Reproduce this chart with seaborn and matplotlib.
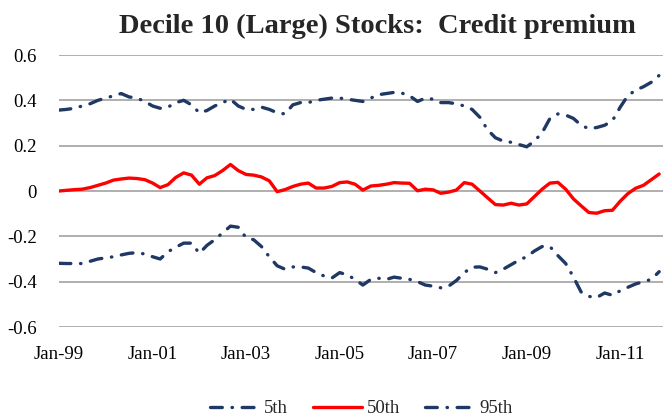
import matplotlib
matplotlib.use("Agg")
import matplotlib.pyplot as plt
import matplotlib.dates as mdates
import seaborn as sns
import pandas as pd

# bi-monthly readings, Jan-1999 .. Nov-2011
dates = pd.date_range("1999-01-01", "2011-11-01", freq="2MS")

p05 = [-0.319, -0.32, -0.32, -0.32, -0.31, -0.30, -0.295, -0.29, -0.282, -0.275,
       -0.272, -0.278, -0.29, -0.30, -0.268, -0.248, -0.23, -0.23, -0.275, -0.24,
       -0.215, -0.185, -0.155, -0.16, -0.206, -0.215, -0.245, -0.29, -0.33, -0.345,
       -0.335, -0.335, -0.34, -0.36, -0.375, -0.384, -0.36, -0.37, -0.39, -0.415,
       -0.39, -0.385, -0.39, -0.38, -0.385, -0.39, -0.40, -0.415, -0.42, -0.427,
       -0.42, -0.395, -0.36, -0.336, -0.335, -0.345, -0.36, -0.345, -0.325, -0.305,
       -0.29, -0.265, -0.245, -0.245, -0.285, -0.32, -0.38, -0.445, -0.465, -0.47,
       -0.45, -0.46, -0.44, -0.425, -0.41, -0.40, -0.39, -0.356]

p50 = [0.0, 0.003, 0.006, 0.008, 0.015, 0.025, 0.035, 0.048, 0.053, 0.057,
       0.055, 0.05, 0.035, 0.015, 0.028, 0.06, 0.08, 0.07, 0.03, 0.058,
       0.068, 0.09, 0.117, 0.09, 0.073, 0.07, 0.062, 0.045, -0.003, 0.006,
       0.02, 0.03, 0.035, 0.013, 0.013, 0.02, 0.037, 0.04, 0.03, 0.004,
       0.022, 0.025, 0.03, 0.037, 0.035, 0.034, 0.001, 0.008, 0.005, -0.01,
       -0.005, 0.004, 0.037, 0.03, 0.0, -0.03, -0.06, -0.062, -0.054, -0.062,
       -0.057, -0.025, 0.008, 0.035, 0.038, 0.008, -0.035, -0.065, -0.095, -0.098,
       -0.087, -0.085, -0.045, -0.012, 0.012, 0.025, 0.05, 0.075]

p95 = [0.357, 0.36, 0.365, 0.375, 0.385, 0.40, 0.41, 0.42, 0.43, 0.415,
       0.41, 0.395, 0.375, 0.365, 0.37, 0.39, 0.40, 0.38, 0.345, 0.355,
       0.375, 0.39, 0.405, 0.375, 0.36, 0.36, 0.37, 0.36, 0.345, 0.34,
       0.38, 0.39, 0.39, 0.40, 0.405, 0.41, 0.41, 0.405, 0.40, 0.395,
       0.41, 0.425, 0.43, 0.435, 0.432, 0.42, 0.395, 0.41, 0.405, 0.39,
       0.39, 0.385, 0.375, 0.36, 0.325, 0.27, 0.235, 0.22, 0.215, 0.205,
       0.195, 0.22, 0.257, 0.32, 0.34, 0.335, 0.32, 0.29, 0.275, 0.28,
       0.29, 0.31, 0.37, 0.42, 0.445, 0.46, 0.48, 0.51]

labels = ["5th", "50th", "95th"]
tick_years = [1999, 2001, 2003, 2005, 2007, 2009, 2011]
navy = "#1F3864"
red = "#FF0000"

sns.set_style("white")
plt.rcParams["font.family"] = ["Liberation Serif", "DejaVu Serif"]
plt.rcParams["lines.scale_dashes"] = False

fig = plt.figure(figsize=(6.63, 4.17), dpi=100)
ax = fig.add_axes([59 / 663, 90 / 417, 604 / 663, 272 / 417])

dashdot = (0, (8.5, 7, 0.3, 7))
for vals, lab, col in zip([p05, p50, p95], labels, [navy, red, navy]):
    sns.lineplot(x=dates, y=vals, ax=ax, color=col, linewidth=2.4, label=lab)
for line in ax.get_lines():
    if line.get_label() in ("5th", "95th"):
        line.set_linestyle(dashdot)
        line.set_dash_capstyle("round")

ax.set_ylim(-0.6, 0.6)
ax.set_yticks([-0.6, -0.4, -0.2, 0, 0.2, 0.4, 0.6])
ax.set_yticklabels(["-0.6", "-0.4", "-0.2", "0", "0.2", "0.4", "0.6"])
ax.set_xlim(pd.Timestamp("1999-01-01"), pd.Timestamp("2011-12-01"))
ax.set_xticks([pd.Timestamp(f"{y}-01-01") for y in tick_years])
ax.xaxis.set_major_formatter(mdates.DateFormatter("%b-%y"))
ax.set_xlabel("")
ax.set_ylabel("")
ax.grid(axis="y", color="#9a9a9a", linewidth=1.1)
ax.grid(axis="x", visible=False)
ax.set_axisbelow(True)
for s in ax.spines.values():
    s.set_visible(False)
ax.tick_params(axis="both", length=0, labelsize=13.5, labelcolor="black")
ax.tick_params(axis="y", pad=16)
ax.tick_params(axis="x", pad=14)

fig.text(377 / 663, 1 - 26 / 417, "Decile 10 (Large) Stocks:  Credit premium",
         ha="center", va="center", fontsize=20.5, fontweight="bold")

leg = ax.legend(loc="center", bbox_to_anchor=(0.5, -0.3), ncol=3, frameon=False,
                fontsize=13.5, handlelength=2.65, handletextpad=0.25,
                columnspacing=1.3)
for h in leg.get_lines():
    h.set_linewidth(2.4)

fig.savefig("out.png", dpi=100)
